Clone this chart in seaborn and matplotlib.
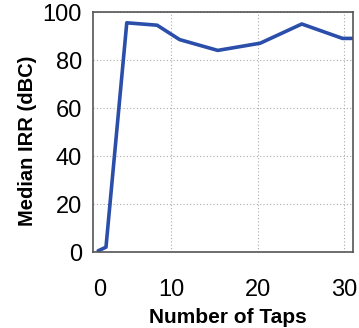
import matplotlib
matplotlib.use("Agg")
import matplotlib.pyplot as plt
import seaborn as sns
import pandas as pd

taps = [1.6, 2.5, 4.9, 8.4, 11.0, 15.4, 20.3, 25.1, 29.8, 31.0]
irr = [0.5, 2.0, 95.5, 94.5, 88.5, 84.0, 87.0, 95.0, 89.0, 89.0]
x_ticks = [1.75, 10, 20, 30]
x_labels = ["0", "10", "20", "30"]
y_ticks = [0, 20, 40, 60, 80, 100]

sns.set_style("white")
plt.rcParams['font.family'] = ['Liberation Sans', 'DejaVu Sans']

df = pd.DataFrame({"Number of Taps": taps, "Median IRR (dBC)": irr})

fig = plt.figure(figsize=(3.59, 3.28), dpi=100)
ax = fig.add_axes([0.259, 0.2317, 0.724, 0.7317])

sns.lineplot(data=df, x="Number of Taps", y="Median IRR (dBC)", ax=ax,
             color="#2B4EAA", linewidth=2.6, sort=False)

ax.set_xlim(1, 31)
ax.set_ylim(0, 100)
ax.set_xticks(x_ticks)
ax.set_yticks(y_ticks)
ax.set_xticklabels(x_labels)
ax.set_yticklabels([str(t) for t in y_ticks])
ax.tick_params(axis='both', direction='in', length=3, width=0.8,
               labelsize=17, colors='#444444', labelcolor='black')
ax.tick_params(axis='x', pad=19.5)
ax.tick_params(axis='y', pad=8)

ax.grid(True, linestyle=(0, (1, 2)), color='#aaaaaa', linewidth=0.8)
ax.get_xgridlines()[0].set_visible(False)
ax.xaxis.get_major_ticks()[0].tick1line.set_visible(False)
for s in ax.spines.values():
    s.set_color('#555555')
    s.set_linewidth(1.2)

ax.set_xlabel("Number of Taps", fontsize=15, fontweight='bold', color='black')
ax.set_ylabel("Median IRR (dBC)", fontsize=14.5, fontweight='bold', color='black')
ax.xaxis.set_label_coords(0.52, -0.232)
ax.yaxis.set_label_coords(-0.215, 0.4625)

fig.savefig("out.png", dpi=100)
